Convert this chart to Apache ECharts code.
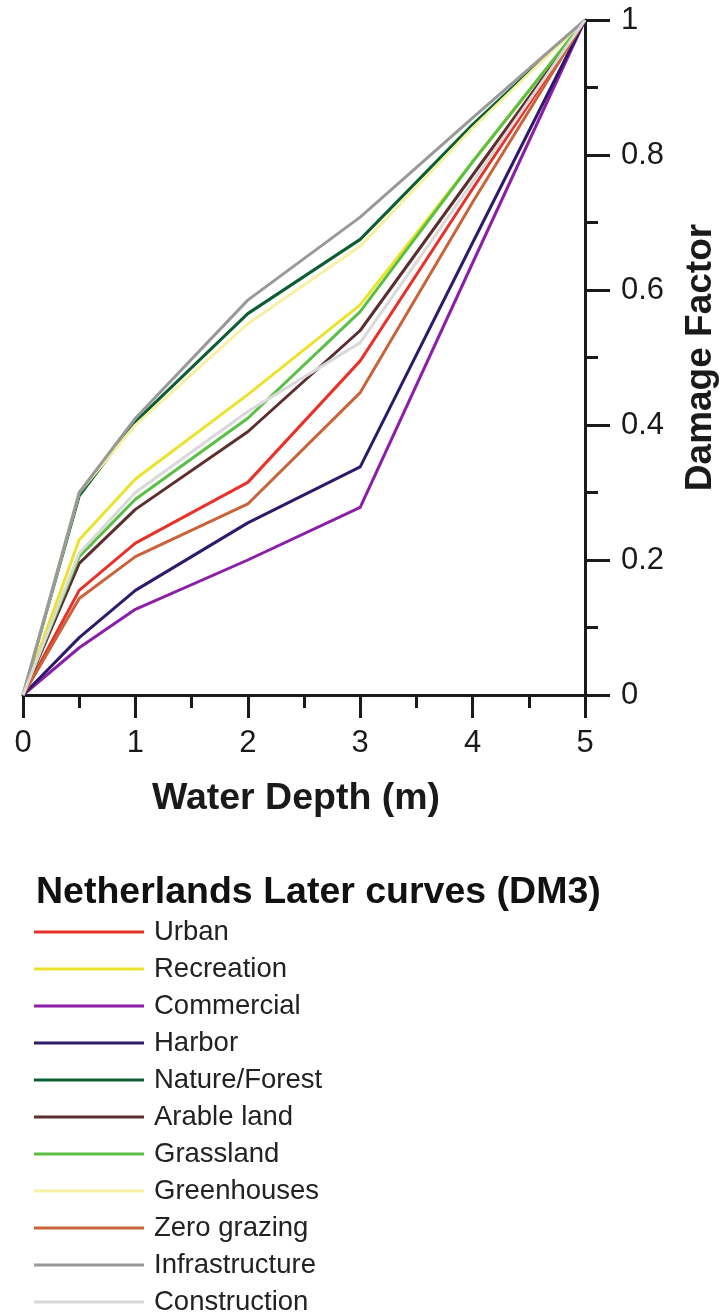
<!DOCTYPE html>
<html>
<head>
<meta charset="utf-8">
<script src="https://cdn.jsdelivr.net/npm/echarts@6/dist/echarts.min.js"></script>
<style>
html,body{margin:0;padding:0;background:#fff;}
#c{width:721px;height:1316px;}
</style>
</head>
<body>
<div id="c"></div>
<script>
// Water depth (m)
const depths = [0, 0.5, 1, 2, 3, 4, 5];
const seriesNames = ['Urban','Recreation','Commercial','Harbor','Nature/Forest','Arable land','Grassland','Greenhouses','Zero grazing','Infrastructure','Construction'];
const urban         = [0, 0.155, 0.225, 0.315, 0.495, 0.750, 1];
const recreation    = [0, 0.230, 0.320, 0.445, 0.578, 0.790, 1];
const commercial    = [0, 0.070, 0.127, 0.200, 0.278, 0.640, 1];
const harbor        = [0, 0.085, 0.155, 0.255, 0.338, 0.670, 1];
const natureForest  = [0, 0.295, 0.405, 0.565, 0.675, 0.845, 1];
const arableLand    = [0, 0.195, 0.275, 0.390, 0.540, 0.770, 1];
const grassland     = [0, 0.205, 0.290, 0.410, 0.568, 0.790, 1];
const greenhouses   = [0, 0.300, 0.400, 0.550, 0.665, 0.840, 1];
const zeroGrazing   = [0, 0.143, 0.205, 0.283, 0.448, 0.730, 1];
const infrastructure= [0, 0.300, 0.410, 0.585, 0.708, 0.855, 1];
const construction  = [0, 0.210, 0.300, 0.420, 0.522, 0.760, 1];
const allValues = [urban, recreation, commercial, harbor, natureForest, arableLand, grassland, greenhouses, zeroGrazing, infrastructure, construction];
const colors = ['#e8312a','#ece22d','#8b1fa8','#2e1a6b','#0b5e32','#5c2e2e','#5abf45','#f6f1a2','#c9643a','#999999','#d9d9d9'];

const FONT = '"Liberation Sans", Arial, Helvetica, sans-serif';
const INK = '#1a1a1a';

const chart = echarts.init(document.getElementById('c'), null, {renderer: 'canvas'});
const series = seriesNames.map((name, i) => ({
  name: name,
  type: 'line',
  symbol: 'none',
  animation: false,
  color: colors[i],
  itemStyle: {color: colors[i]},
  lineStyle: {width: 3, color: colors[i]},
  data: depths.map((d, j) => [d, allValues[i][j]])
}));

chart.setOption({
  animation: false,
  backgroundColor: '#ffffff',
  title: {
    text: 'Netherlands Later curves (DM3)',
    left: 36,
    top: 874,
    padding: 0,
    textStyle: {fontFamily: FONT, fontSize: 37.5, fontWeight: 'bold', color: '#111'}
  },
  legend: {
    orient: 'vertical',
    left: 34,
    top: 918,
    height: 460,
    padding: 0,
    icon: 'rect',
    itemWidth: 110,
    itemHeight: 3,
    itemGap: 9,
    textStyle: {fontFamily: FONT, fontSize: 27.5, lineHeight: 26, color: '#222', padding: [0, 0, 0, 5]},
    data: seriesNames
  },
  grid: {left: 23, right: 136, top: 20, bottom: 621, containLabel: false, outerBoundsMode: 'none'},
  xAxis: {
    type: 'value',
    min: 0, max: 5, interval: 1,
    name: 'Water Depth (m)',
    nameLocation: 'middle',
    nameGap: 85,
    nameTextStyle: {fontFamily: FONT, fontSize: 37.5, fontWeight: 'bold', color: INK, padding: [0, 16, 0, 0]},
    axisLine: {show: true, onZero: false, lineStyle: {color: INK, width: 3}},
    axisTick: {show: true, length: 23, lineStyle: {color: INK, width: 3}},
    minorTick: {show: true, splitNumber: 2, length: 13, lineStyle: {color: INK, width: 3}},
    splitLine: {show: false},
    minorSplitLine: {show: false},
    axisLabel: {fontFamily: FONT, fontSize: 31, color: INK, margin: 33}
  },
  yAxis: {
    type: 'value',
    position: 'right',
    min: 0, max: 1, interval: 0.2,
    name: 'Damage Factor',
    nameLocation: 'middle',
    nameRotate: 90,
    nameGap: 97,
    nameTextStyle: {fontFamily: FONT, fontSize: 37, fontWeight: 'bold', color: INK},
    axisLine: {show: true, onZero: false, lineStyle: {color: INK, width: 3}},
    axisTick: {show: true, length: 25, lineStyle: {color: INK, width: 3}},
    minorTick: {show: true, splitNumber: 2, length: 13, lineStyle: {color: INK, width: 3}},
    splitLine: {show: false},
    minorSplitLine: {show: false},
    axisLabel: {fontFamily: FONT, fontSize: 31, color: INK, margin: 36}
  },
  series: series
});
</script>
</body>
</html>
